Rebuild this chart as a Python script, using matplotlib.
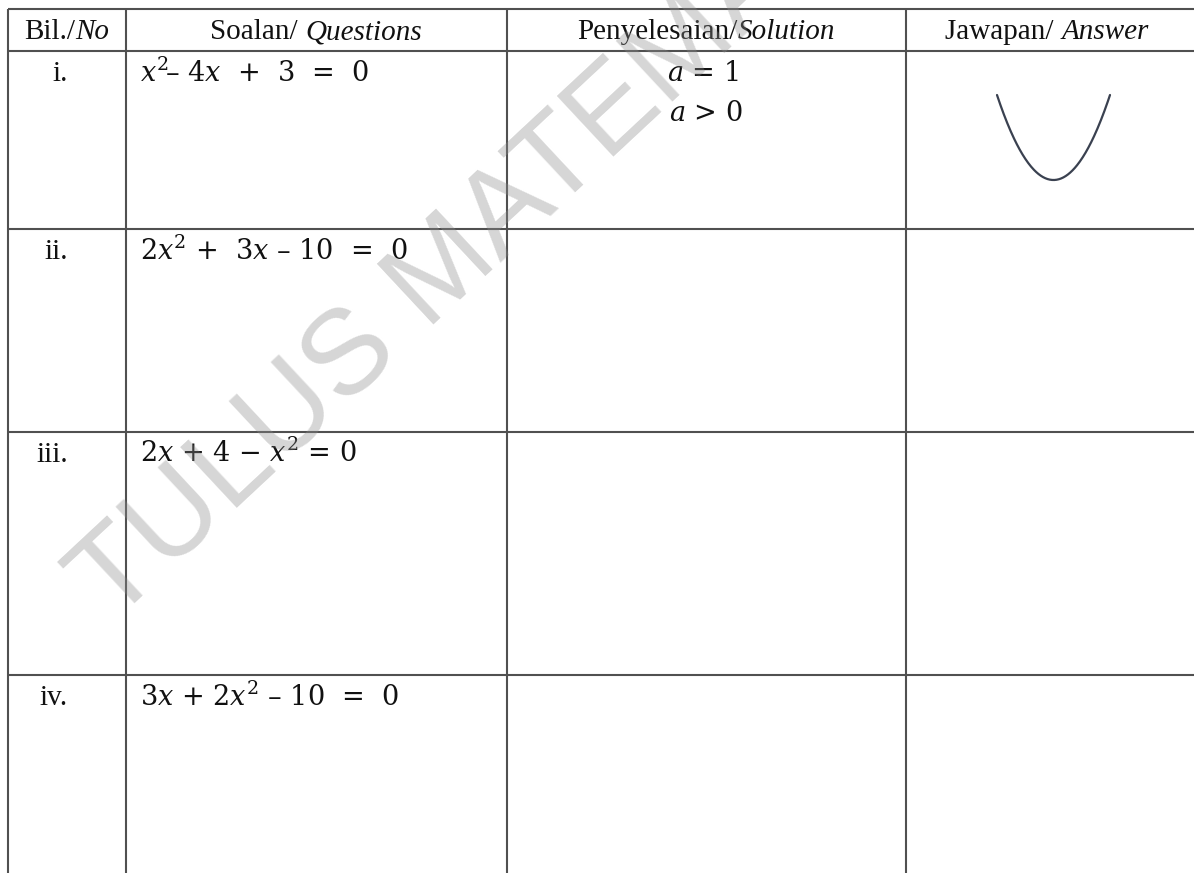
import numpy as np
import matplotlib
matplotlib.use("Agg")
import matplotlib.pyplot as plt

# ---------------- data ----------------
header_roman = ["Bil./", "Soalan/ ", "Penyelesaian/", "Jawapan/ "]
header_italic = ["No", "Questions", "Solution", "Answer"]
row_numbers = ["i.", "ii.", "iii.", "iv."]
questions = [
    r"$x^2\!$– 4$x$  +  3  =  0",
    r"2$x^2$ +  3$x$ – 10  =  0",
    r"2$x$ + 4 − $x^2$ = 0",
    r"3$x$ + 2$x^2$ – 10  =  0",
]
solution_lines = [r"$a$ = 1", r"$a$ > 0"]
answer_coeffs = [1, -4, 3]          # a, b, c of question i
answer_domain = [0.5, 3.5]          # x-range of the sketch
watermark_text = "TULUS MATEMATIK"

# ---------------- layout (pixels) ----------------
W, H = 1194, 873
col_x = [8, 126, 507, 906]
row_y = [9, 51, 229, 432, 675]
line_color = "#505050"

plt.rcParams["mathtext.fontset"] = "dejavuserif"

fig = plt.figure(figsize=(W / 100, H / 100), dpi=100)
fig.patch.set_facecolor("white")
ax = fig.add_axes([0, 0, 1, 1])
ax.set_xlim(0, W)
ax.set_ylim(H, 0)
ax.axis("off")

# grid lines
ax.hlines(row_y, col_x[0], W + 5, color=line_color, lw=1.5, zorder=2)
ax.vlines(col_x, row_y[0], H + 5, color=line_color, lw=1.5, zorder=2)

renderer = fig.canvas.get_renderer()

def mixed(xc, yb, parts, size):
    objs = []
    for txt, style in parts:
        t = ax.text(0, yb, txt, fontsize=size, family="Liberation Serif",
                    style=style, va="baseline", ha="left", color="#111111", zorder=3)
        objs.append(t)
    widths = [t.get_window_extent(renderer=renderer).width for t in objs]
    x = xc - sum(widths) / 2
    for t, w in zip(objs, widths):
        t.set_x(x)
        x += w

# header
centers = [67, 316, 706, 1047]
for xc, r, it in zip(centers, header_roman, header_italic):
    mixed(xc, 39, [(r, "normal"), (it, "italic")], 21)

# row numbers and questions
for i, (num, q) in enumerate(zip(row_numbers, questions)):
    yb = row_y[i + 1] + 30
    ax.text(68, yb, num, fontsize=21, family="Liberation Serif", ha="right",
            va="baseline", color="#111111", zorder=3)
    ax.text(140, yb + 0.5, q, fontsize=19.5, family="DejaVu Serif", ha="left",
            va="baseline", color="#111111", zorder=3)

# solution
ax.text(703, 81, solution_lines[0], fontsize=19.5, family="DejaVu Serif",
        ha="center", va="baseline", color="#111111", zorder=3)
ax.text(706, 121, solution_lines[1], fontsize=19.5, family="DejaVu Serif",
        ha="center", va="baseline", color="#111111", zorder=3)

# answer sketch (quadratic of question i)
a, b, c = answer_coeffs
xs = np.linspace(answer_domain[0], answer_domain[1], 200)
ys = a * xs ** 2 + b * xs + c
x0, x1, y0, y1 = 997, 1110, 95, 180
ax2 = fig.add_axes([x0 / W, 1 - y1 / H, (x1 - x0) / W, (y1 - y0) / H])
ax2.plot(xs, ys, color="#3a4150", lw=1.6, solid_capstyle="round", clip_on=False)
ax2.set_xlim(answer_domain)
ax2.set_ylim(ys.min(), ys.max())
ax2.axis("off")

# watermark
ax.text(112, 624, watermark_text, fontsize=87, family="Liberation Sans",
        rotation=43, rotation_mode="anchor", ha="left", va="baseline",
        color=(0.55, 0.55, 0.55), alpha=0.36, clip_on=True, zorder=5)

fig.savefig("out.png", dpi=100, facecolor="white")
